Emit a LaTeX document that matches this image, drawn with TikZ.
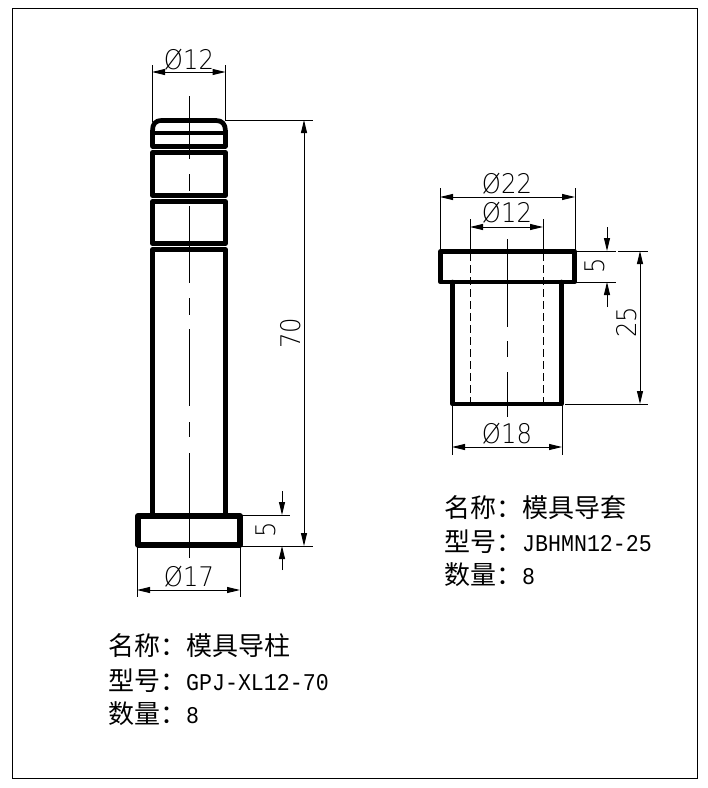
\documentclass[tikz,border=0pt]{standalone}
\usepackage{fontspec}
\newfontfamily\cjk{Noto Sans CJK SC}
\newfontfamily\monof[FakeStretch=0.9]{Liberation Mono}
\newfontfamily\dimf[FakeStretch=0.9]{DejaVu Sans ExtraLight}
\usetikzlibrary{arrows.meta}
\tikzset{
  part/.style={line width=4.7pt,line join=round,line cap=round},
  thin line/.style={line width=1pt},
  dimline/.style={line width=1pt,{Triangle[length=13pt,width=6pt]}-{Triangle[length=13pt,width=6pt]}},
  tipline/.style={line width=1pt,-{Triangle[length=13pt,width=6pt]}},
  hidden/.style={line width=1pt,dash pattern=on 8pt off 4pt},
  dimtext/.style={font=\dimf\fontsize{27}{27}\selectfont,inner sep=0pt},
  label/.style={anchor=west,inner sep=0pt,font=\cjk\fontsize{26}{26}\selectfont},
}
\newcommand{\lbl}[2]{{\cjk #1：}{\monof\fontsize{24}{26}\selectfont #2}}
\begin{document}
\begin{tikzpicture}[x=1pt,y=-1pt]
\useasboundingbox (0,0) rectangle (708,788);
\fill[white] (0,0) rectangle (708,788);
\draw[line width=1.2pt] (12.5,8.5) rectangle (697.5,778.5);
% left part
\draw[part] (152.5,146.5) -- (152.5,131) .. controls (152.5,124) and (155,120.5) .. (162,120.5) -- (216,120.5) .. controls (222,120.5) and (225.5,124) .. (225.5,131) -- (225.5,146.5) -- cycle;
\draw[part] (152.5,133) -- (225.5,133);
\draw[part] (152.5,152.5) rectangle (225.5,195.5);
\draw[part] (152.5,201.5) rectangle (225.5,243.5);
\draw[part] (152.5,515) -- (152.5,249.5) -- (225.5,249.5) -- (225.5,515);
\draw[part,line width=6pt] (138,516) rectangle (240,544.5);
\draw[thin line] (189.3,96) -- (189.3,159);
\draw[thin line] (189.3,174) -- (189.3,191);
\draw[thin line] (189.3,206) -- (189.3,283);
\draw[thin line] (189.3,298) -- (189.3,315);
\draw[thin line] (189.3,329) -- (189.3,406);
\draw[thin line] (189.3,422) -- (189.3,437);
\draw[thin line] (189.3,453) -- (189.3,558);
% left dims
\draw[thin line] (152,65) -- (152,122);
\draw[thin line] (225.5,65) -- (225.5,120);
\draw[dimline] (152,72) -- (225.5,72);
\node[dimtext] (t1) at (189,60) {Ø12};
\draw[thin line] (225,120) -- (313,120);
\draw[thin line] (241,546) -- (313,546);
\draw[dimline] (304,120) -- (304,546);
\node[dimtext,rotate=90] (t2) at (291,333) {70};
\draw[thin line] (241,515) -- (290,515);
\draw[tipline] (282,491) -- (282,515);
\draw[tipline] (282,570) -- (282,546);
\node[dimtext,rotate=90] (t3) at (266,530) {5};
\draw[thin line] (137,546) -- (137,597);
\draw[thin line] (240,546) -- (240,597);
\draw[dimline] (137,590) -- (240,590);
\node[dimtext] (t4) at (189,577) {Ø17};
% right part
\draw[part] (440.5,251.5) rectangle (574.5,282);
\draw[part] (452.7,282) -- (452.7,404) -- (561.2,404) -- (561.2,282);
\draw[thin line] (507,239) -- (507,327);
\draw[thin line] (507,341) -- (507,357);
\draw[thin line] (507,372) -- (507,417);
\draw[thin line] (470,219) -- (470,251);
\draw[thin line] (543,219) -- (543,251);
\draw[hidden] (470,253) -- (470,404);
\draw[hidden] (543,253) -- (543,404);
\draw[thin line] (440,188) -- (440,251);
\draw[thin line] (575,188) -- (575,251);
\draw[dimline] (440,197) -- (575,197);
\node[dimtext] (t5) at (507,183.5) {Ø22};
\draw[dimline] (470,227) -- (543,227);
\node[dimtext] (t6) at (507,213) {Ø12};
\draw[thin line] (575,251) -- (616,251);
\draw[thin line] (575,282) -- (616,282);
\draw[tipline] (607,227) -- (607,251);
\draw[tipline] (607,307) -- (607,282);
\node[dimtext,rotate=90] (t7) at (595,266) {5};
\draw[thin line] (618,251) -- (648,251);
\draw[thin line] (565,404) -- (648,404);
\draw[dimline] (640,251) -- (640,404);
\node[dimtext,rotate=90] (t8) at (627,322) {25};
\draw[thin line] (452,404) -- (452,455);
\draw[thin line] (562,404) -- (562,455);
\draw[dimline] (452,447) -- (562,447);
\node[dimtext] (t9) at (507,434) {Ø18};
% labels
\node[label] (a1) at (444,508) {\lbl{名称}{}\cjk 模具导套};
\node[label] (a2) at (444,542) {\lbl{型号}{JBHMN12-25}};
\node[label] (a3) at (444,575) {\lbl{数量}{8}};
\node[label] (b1) at (108,646) {\lbl{名称}{}\cjk 模具导柱};
\node[label] (b2) at (108,681) {\lbl{型号}{GPJ-XL12-70}};
\node[label] (b3) at (108,714) {\lbl{数量}{8}};
\end{tikzpicture}
\end{document}
